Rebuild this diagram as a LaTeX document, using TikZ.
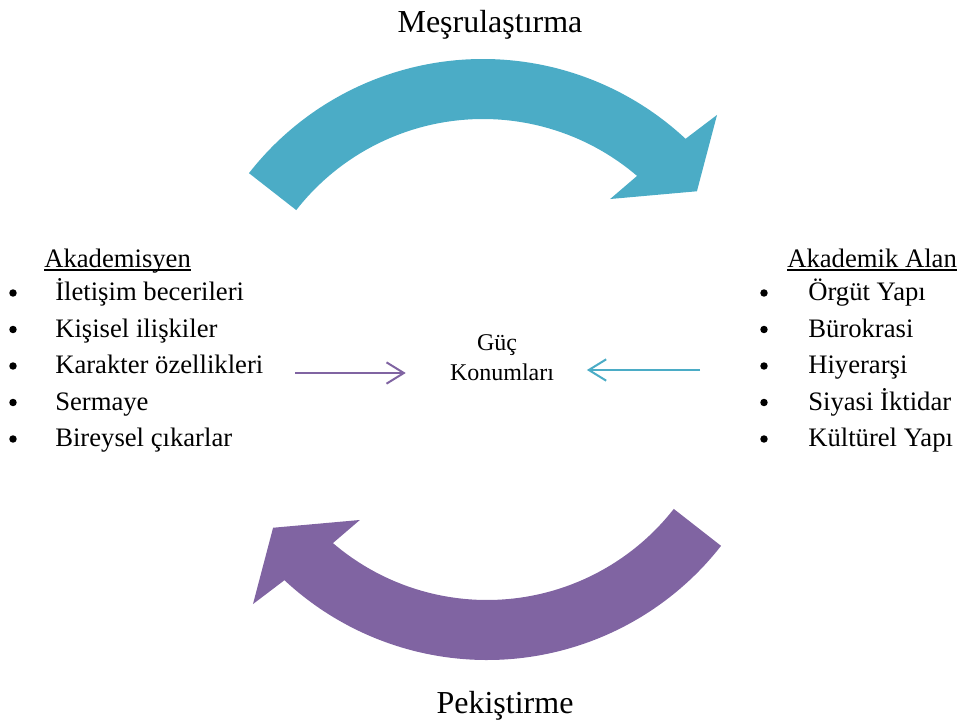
\documentclass[tikz,border=0pt]{standalone}
\usepackage{fontspec}
\setmainfont{Liberation Serif}
\usetikzlibrary{arrows.meta}
\definecolor{tealA}{HTML}{4BACC6}
\definecolor{purpA}{HTML}{8064A2}
\begin{document}
\begin{tikzpicture}[x=0.75pt,y=0.75pt,
  txt/.style={inner sep=0pt, font=\fontsize{20pt}{24pt}\selectfont, anchor=base west},
  ttl/.style={inner sep=0pt, font=\fontsize{24pt}{28pt}\selectfont, anchor=base},
  ctr/.style={inner sep=0pt, font=\fontsize{18pt}{22pt}\selectfont, anchor=base},
  bul/.style={circle, fill=black, inner sep=0pt, minimum size=5.6pt},
  uline/.style={line width=1.1pt},
  conn/.style={line width=1.5pt, -{Straight Barb[length=13pt,width=16pt]}}]
\useasboundingbox (0,0) rectangle (960,-724);

% big curved arrows
\fill[tealA, shift={(483,-356)}] (142:297) arc[start angle=142,end angle=47,radius=297]
  -- (45.85:336) -- (37.6:270) -- (51.0:202) -- (49.45:237)
  arc[start angle=49.45,end angle=142,radius=237] -- cycle;
\fill[purpA, shift={(487,-363)}, rotate=180] (142:297) arc[start angle=142,end angle=47,radius=297]
  -- (45.85:336) -- (37.6:270) -- (51.0:202) -- (49.45:237)
  arc[start angle=49.45,end angle=142,radius=237] -- cycle;

% titles
\node[ttl] (t1) at (490,-33) {Meşrulaştırma};
\node[ttl] (t2) at (505,-713) {Pekiştirme};

% left list
\node[txt] (lh) at (44,-267) {Akademisyen};
\draw[uline] ([yshift=-2.4pt]lh.base west) -- ([yshift=-2.4pt]lh.base east);
\node[txt] (l1) at (55,-300.5) {İletişim becerileri};
\node[txt] (l2) at (55,-337) {Kişisel ilişkiler};
\node[txt] (l3) at (55,-373.5) {Karakter özellikleri};
\node[txt] (l4) at (55,-410) {Sermaye};
\node[txt] (l5) at (55,-446.5) {Bireysel çıkarlar};
\node[bul] (lb1) at (13,-293) {};
\node[bul] (lb2) at (13,-329.5) {};
\node[bul] (lb3) at (13,-366) {};
\node[bul] (lb4) at (13,-402.5) {};
\node[bul] (lb5) at (13,-439) {};

% right list
\node[txt] (rh) at (787,-267) {Akademik Alan};
\draw[uline] ([yshift=-2.4pt]rh.base west) -- ([yshift=-2.4pt]rh.base east);
\node[txt] (r1) at (808,-300.5) {Örgüt Yapı};
\node[txt] (r2) at (808,-337) {Bürokrasi};
\node[txt] (r3) at (808,-373.5) {Hiyerarşi};
\node[txt] (r4) at (808,-410) {Siyasi İktidar};
\node[txt] (r5) at (808,-446.5) {Kültürel Yapı};
\node[bul] (rb1) at (764,-293) {};
\node[bul] (rb2) at (764,-329.5) {};
\node[bul] (rb3) at (764,-366) {};
\node[bul] (rb4) at (764,-402.5) {};
\node[bul] (rb5) at (764,-439) {};

% centre
\node[ctr] (g1) at (497,-350) {Güç};
\node[ctr] (g2) at (502,-380) {Konumları};

% connectors
\coordinate (ls) at (295,-373);
\coordinate (rs) at (700,-370);
\draw[conn, purpA] (ls) -- (ls -| g2.west) [shorten >=33pt];
\draw[conn, tealA] (rs) -- (rs -| g2.east) [shorten >=24.5pt];
\end{tikzpicture}
\end{document}
